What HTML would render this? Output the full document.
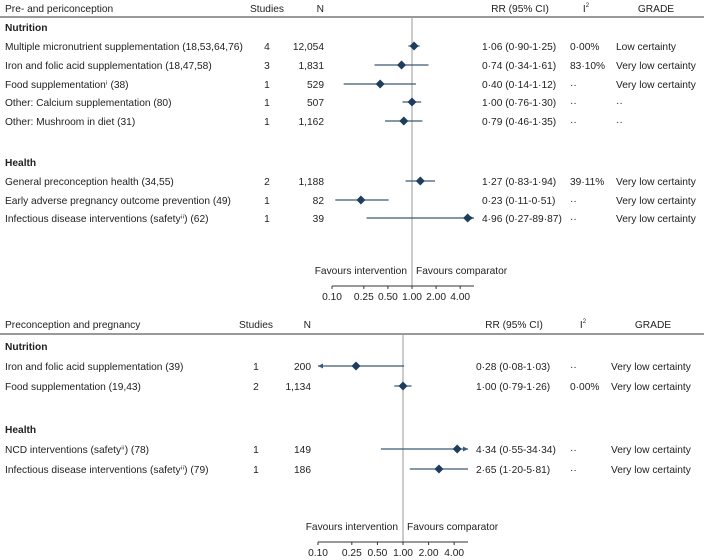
<!DOCTYPE html>
<html><head><meta charset="utf-8"><style>
body{margin:0;background:#fff}
svg{display:block;font-family:"Liberation Sans",Arial,sans-serif;font-size:10.2px;fill:#222}
.b{font-weight:bold}
</style></head><body>
<svg id="c" width="704" height="560" viewBox="0 0 704 560"></svg>
<script>
// Panel 1 data
const p1Labels=["Multiple micronutrient supplementation (18,53,64,76)","Iron and folic acid supplementation (18,47,58)","Food  supplementation\u2071 (38)","Other: Calcium supplementation (80)","Other: Mushroom in diet (31)","General preconception health (34,55)","Early adverse pregnancy outcome prevention (49)","Infectious disease interventions (safety\u2071\u2071) (62)"];
const p1Studies=["4","3","1","1","1","2","1","1"];
const p1N=["12,054","1,831","529","507","1,162","1,188","82","39"];
const p1RR=[1.06,0.74,0.40,1.00,0.79,1.27,0.23,4.96];
const p1Lo=[0.90,0.34,0.14,0.76,0.46,0.83,0.11,0.27];
const p1Hi=[1.25,1.61,1.12,1.30,1.35,1.94,0.51,89.87];
const p1Text=["1·06 (0·90-1·25)","0·74 (0·34-1·61)","0·40 (0·14-1·12)","1·00 (0·76-1·30)","0·79 (0·46-1·35)","1·27 (0·83-1·94)","0·23 (0·11-0·51)","4·96 (0·27-89·87)"];
const p1I2=["0·00%","83·10%","··","··","··","39·11%","··","··"];
const p1Grade=["Low certainty","Very low certainty","Very low certainty","··","··","Very low certainty","Very low certainty","Very low certainty"];
const p1Y=[46,65,84,102,121,181,200,218];
// Panel 2 data
const p2Labels=["Iron and folic acid supplementation (39)","Food supplementation (19,43)","NCD interventions (safety\u2071\u2071) (78)","Infectious disease interventions (safety\u2071\u2071) (79)"];
const p2Studies=["1","2","1","1"];
const p2N=["200","1,134","149","186"];
const p2RR=[0.28,1.00,4.34,2.65];
const p2Lo=[0.08,0.79,0.55,1.20];
const p2Hi=[1.03,1.26,34.34,5.81];
const p2Text=["0·28 (0·08-1·03)","1·00 (0·79-1·26)","4·34 (0·55-34·34)","2·65 (1·20-5·81)"];
const p2I2=["··","0·00%","··","··"];
const p2Grade=["Very low certainty","Very low certainty","Very low certainty","Very low certainty"];
const p2Y=[366,386,449,469];
const ticks=[0.10,0.25,0.50,1.00,2.00,4.00];
const tickLabels=["0.10","0.25","0.50","1.00","2.00","4.00"];

const svg=document.getElementById('c');
const NS="http://www.w3.org/2000/svg";
function mk(tag,attrs,txt){const e=document.createElementNS(NS,tag);for(const k in attrs)e.setAttribute(k,attrs[k]);if(txt!==undefined)e.textContent=txt;svg.appendChild(e);return e;}
function txt(x,y,s,anchor,cls,name){const e=mk('text',{x:x,y:y,'text-anchor':anchor||'start','class':cls||''},s);


return e;}

function panel(P){
  const sx=v=>P.x1+Math.log10(v)*P.dec;
  const xmin=sx(0.1), xmax=P.xEnd, vmax=Math.pow(10,(xmax-P.x1)/P.dec);
  txt(5,P.hy,P.title,'start','',P.id+'-title');
  txt(P.stx,P.hy,'Studies','middle','',P.id+'-studies-header');
  txt(P.nx,P.hy,'N','end','',P.id+'-n-header');
  txt(P.rrh,P.hy,'RR (95% CI)','middle','',P.id+'-rr-header');
  const i2=txt(P.i2h,P.hy,'I','middle','',P.id+'-i2-header');
  const sup=document.createElementNS(NS,'tspan');sup.setAttribute('dy','-5');sup.setAttribute('font-size','6');sup.textContent='2';i2.appendChild(sup);
  txt(P.grh,P.hy,'GRADE','middle','',P.id+'-grade-header');
  let l=mk('line',{x1:0,x2:704,y1:P.ly,y2:P.ly,stroke:'#333','stroke-width':1});
  
  
  txt(5,P.g1,'Nutrition','start','b',P.id+'-nutrition-heading');
  txt(5,P.g2,'Health','start','b',P.id+'-health-heading');
  l=mk('line',{x1:sx(1),x2:sx(1),y1:P.ly,y2:P.ay,stroke:'#999','stroke-width':1});
  
  
  P.labels.forEach((lab,i)=>{
    const y=P.ys[i];
    txt(5,y+4,lab,'start','',P.id+'-row-label');
    txt(P.stx,y+4,P.st[i],'middle','',P.id+'-row-studies');
    txt(P.nx,y+4,P.n[i],'end','',P.id+'-row-n');
    let lo=Math.max(P.lo[i],0.1),hi=Math.min(P.hi[i],vmax);
    const ci=mk('line',{x1:sx(lo),x2:sx(hi),y1:y,y2:y,stroke:'#3a5a78','stroke-width':1.2});
    
    
    if(P.lo[i]<0.1){const a=mk('path',{d:`M${sx(0.1)} ${y}l5 -2.5v5z`,fill:'#3a5a78'});}
    if(P.hi[i]>vmax){const a=mk('path',{d:`M${xmax} ${y}l-5 -2.5v5z`,fill:'#3a5a78'});}
    const cx=sx(P.rr[i]);
    const d=mk('path',{d:`M${cx-4.5} ${y}L${cx} ${y-4.5}L${cx+4.5} ${y}L${cx} ${y+4.5}Z`,fill:'#1e3d5c'});
    
    
    txt(P.rrx,y+4,P.txt[i],'start','',P.id+'-row-rr');
    txt(P.i2x,y+4,P.i2[i],'start','',P.id+'-row-i2');
    txt(P.grx,y+4,P.gr[i],'start','',P.id+'-row-grade');
  });
  txt(sx(1)-5,P.ay-12,'Favours intervention','end','',P.id+'-favours-intervention');
  txt(sx(1)+4,P.ay-12,'Favours comparator','start','',P.id+'-favours-comparator');
  l=mk('line',{x1:xmin,x2:xmax,y1:P.ay,y2:P.ay,stroke:'#333','stroke-width':1});
  
  
  ticks.forEach((t,i)=>{
    const tl=mk('line',{x1:sx(t),x2:sx(t),y1:P.ay,y2:P.ay+3,stroke:'#333'});
    
    
    txt(sx(t),P.ay+14,tickLabels[i],'middle','',P.id+'-x-tick-label');
  });
}
panel({id:'panel-1',title:'Pre- and periconception',hy:12,ly:17,g1:31,g2:166,x1:412,dec:80,xEnd:474,ay:286,
  stx:267,nx:324,rrh:520,i2h:586,grh:656,rrx:482,i2x:570,grx:616,
  labels:p1Labels,st:p1Studies,n:p1N,rr:p1RR,lo:p1Lo,hi:p1Hi,txt:p1Text,i2:p1I2,gr:p1Grade,ys:p1Y});
panel({id:'panel-2',title:'Preconception and pregnancy',hy:328,ly:334,g1:350,g2:433,x1:403,dec:85,xEnd:468,ay:542,
  stx:256,nx:311,rrh:514,i2h:583,grh:653,rrx:476,i2x:570,grx:611,
  labels:p2Labels,st:p2Studies,n:p2N,rr:p2RR,lo:p2Lo,hi:p2Hi,txt:p2Text,i2:p2I2,gr:p2Grade,ys:p2Y});
</script>
</body></html>
